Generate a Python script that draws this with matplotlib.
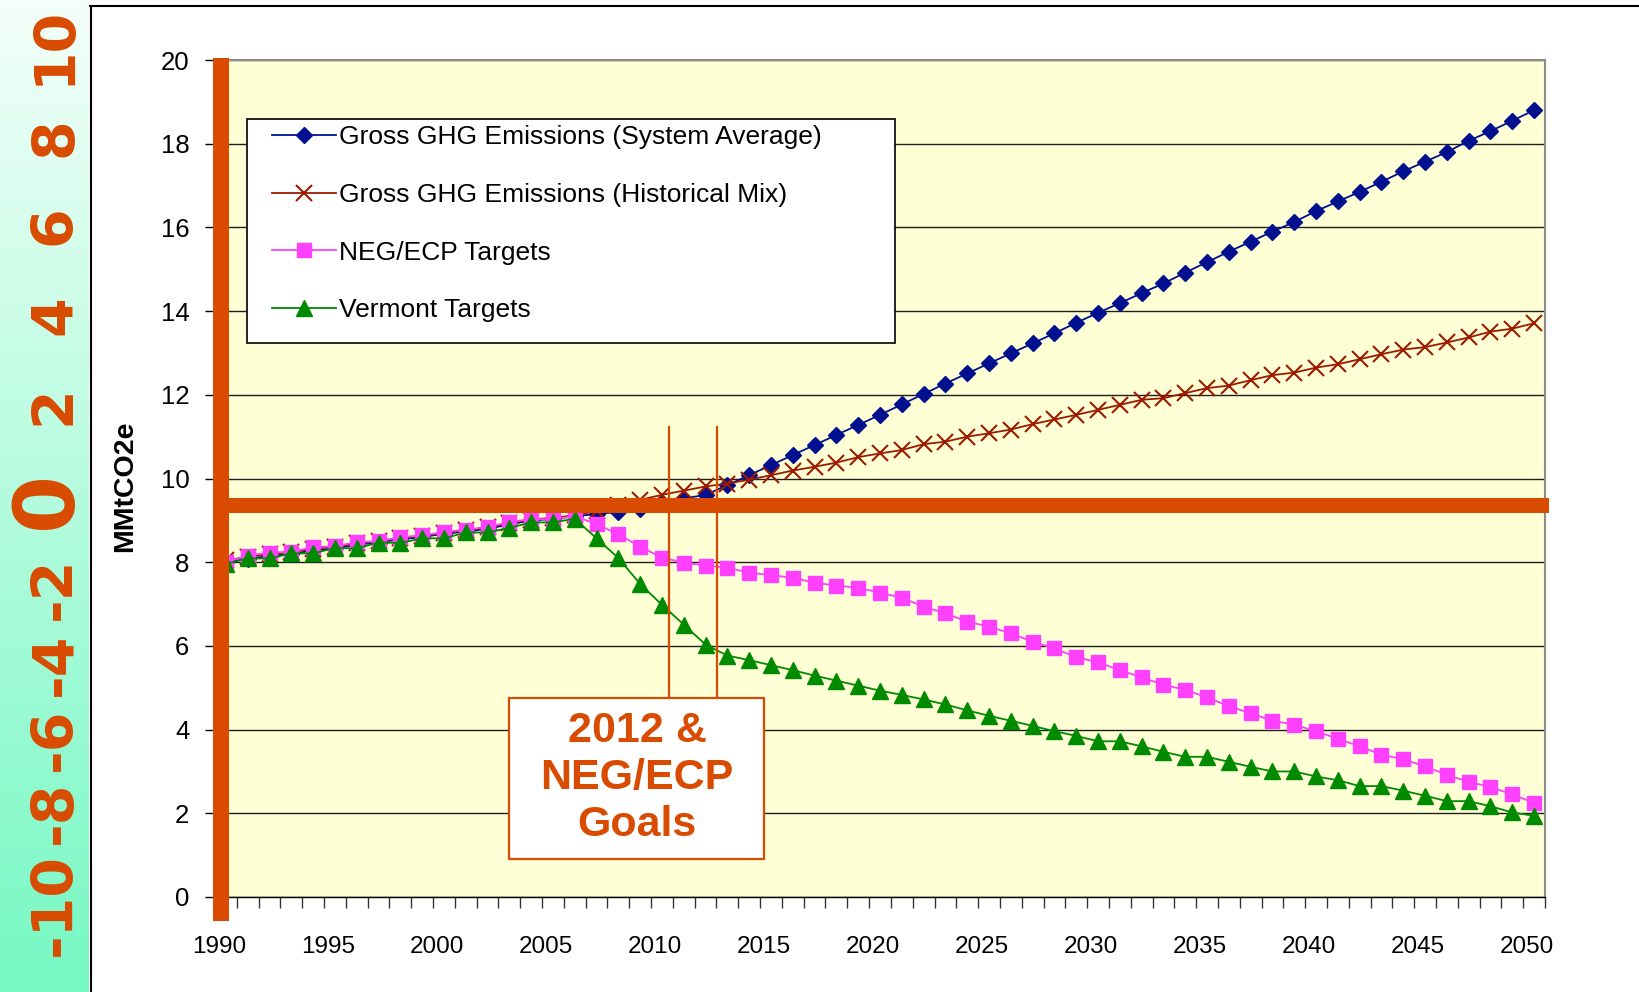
import numpy as np
import matplotlib
matplotlib.use("Agg")
import matplotlib.pyplot as plt
import matplotlib.transforms as mtransforms
from matplotlib.patches import Rectangle
from matplotlib.lines import Line2D

W, H, DPI = 1639, 992, 100

# ---------------------------------------------------------------- data
years = list(range(1990, 2051))

system_average = [
    8.00, 8.08, 8.15, 8.20, 8.28, 8.33, 8.42, 8.47, 8.55, 8.60,
    8.68, 8.73, 8.80, 8.90, 9.00, 9.03, 9.10, 9.15, 9.20, 9.28,
    9.42, 9.52, 9.61, 9.84, 10.08, 10.32, 10.56, 10.80, 11.04, 11.28,
    11.52, 11.77, 12.02, 12.27, 12.51, 12.75, 12.99, 13.23, 13.47, 13.72,
    13.96, 14.19, 14.43, 14.66, 14.92, 15.17, 15.42, 15.66, 15.90, 16.13,
    16.39, 16.62, 16.85, 17.09, 17.34, 17.57, 17.80, 18.07, 18.30, 18.55,
    18.80,
]

historical_mix = [
    8.05, 8.12, 8.20, 8.24, 8.32, 8.37, 8.45, 8.50, 8.58, 8.63,
    8.70, 8.76, 8.83, 8.93, 9.02, 9.06, 9.12, 9.22, 9.36, 9.49,
    9.61, 9.71, 9.81, 9.88, 9.97, 10.08, 10.19, 10.28, 10.38, 10.51,
    10.60, 10.68, 10.82, 10.88, 11.00, 11.08, 11.17, 11.30, 11.41, 11.52,
    11.64, 11.76, 11.88, 11.92, 12.04, 12.16, 12.22, 12.35, 12.47, 12.53,
    12.65, 12.73, 12.85, 12.97, 13.08, 13.14, 13.25, 13.37, 13.51, 13.58,
    13.71,
]

neg_ecp_targets = [
    8.00, 8.16, 8.23, 8.25, 8.36, 8.38, 8.48, 8.50, 8.60, 8.64,
    8.72, 8.78, 8.84, 8.96, 9.03, 9.03, 9.10, 8.91, 8.67, 8.37,
    8.11, 7.99, 7.92, 7.87, 7.75, 7.69, 7.63, 7.51, 7.44, 7.39,
    7.27, 7.15, 6.94, 6.78, 6.58, 6.46, 6.30, 6.10, 5.94, 5.73,
    5.61, 5.42, 5.25, 5.07, 4.95, 4.77, 4.56, 4.39, 4.21, 4.12,
    3.96, 3.78, 3.60, 3.40, 3.29, 3.12, 2.92, 2.75, 2.63, 2.45,
    2.25,
]

vermont_targets = [
    7.96, 8.09, 8.09, 8.21, 8.21, 8.34, 8.33, 8.47, 8.46, 8.57,
    8.57, 8.71, 8.71, 8.82, 8.95, 8.95, 9.04, 8.57, 8.10, 7.48,
    6.98, 6.51, 6.03, 5.77, 5.66, 5.54, 5.42, 5.29, 5.17, 5.05,
    4.93, 4.83, 4.72, 4.60, 4.46, 4.33, 4.21, 4.09, 3.96, 3.85,
    3.72, 3.72, 3.60, 3.47, 3.35, 3.35, 3.23, 3.11, 3.00, 3.00,
    2.88, 2.79, 2.65, 2.65, 2.54, 2.42, 2.29, 2.29, 2.17, 2.02,
    1.94,
]

series_labels = [
    "Gross GHG Emissions (System Average)",
    "Gross GHG Emissions (Historical Mix)",
    "NEG/ECP Targets",
    "Vermont Targets",
]
y_ticks = list(range(0, 21, 2))
x_label_years = list(range(1990, 2051, 5))
y_axis_title = "MMtCO2e"
quadrant_labels = ["-10", "-8", "-6", "-4", "-2", "0", "2", "4", "6", "8", "10"]
callout_text = "2012 &\nNEG/ECP\nGoals"

# ---------------------------------------------------------------- layout
ORANGE = "#D84B00"
quadrant_y_px = [904, 812, 739, 664, 588, 500, 405, 315, 225, 137, 45]

plt.rcParams["font.family"] = ["Liberation Sans", "DejaVu Sans"]


def fx(x):
    return x / W


def fy(y):
    return 1 - y / H


fig = plt.figure(figsize=(W / DPI, H / DPI), dpi=DPI)
fig.patch.set_facecolor("white")

# gradient side strip
side = fig.add_axes([0, 0, fx(89), 1])
grad = np.linspace(0, 1, 256)[:, None, None]
c_top = np.array([243, 255, 249]) / 255
c_bot = np.array([118, 248, 196]) / 255
side.imshow(c_top + (c_bot - c_top) * grad, aspect="auto",
            extent=[0, 1, 0, 1], origin="upper")
side.axis("off")

# main chart
ax = fig.add_axes([fx(215), fy(897), fx(1545 - 215), (897 - 60) / H])
ax.set_facecolor("#FFFFD6")

lines = []
lines += ax.plot(years, system_average, color="#00108F", lw=1.3, marker="D",
                 ms=8.5, mfc="#00108F", mec="#00108F", zorder=3)
lines += ax.plot(years, historical_mix, color="#9C1B00", lw=1.3, marker="x",
                 ms=11, mew=1.5, mec="#9C1B00", zorder=3.1)
lines += ax.plot(years, neg_ecp_targets, color="#FF40FF", lw=1.3, marker="s",
                 ms=9.5, mfc="#FF40FF", mec="#FF40FF", zorder=3.2)
lines += ax.plot(years, vermont_targets, color="#008A00", lw=1.3, marker="^",
                 ms=12, mfc="#008A00", mec="#008A00", zorder=3.3)

ax.set_xlim(1989.5, 2050.5)
ax.set_ylim(0, 20)

ax.set_yticks(y_ticks)
ax.yaxis.grid(True, color="#1E1E1E", lw=1.0)
ax.set_axisbelow(True)
ax.tick_params(axis="y", direction="out", length=7, width=1, color="black",
               labelsize=18.5, pad=11.5)

ax.set_xticks(x_label_years)
ax.set_xticks(np.arange(1989.5, 2051, 1), minor=True)
ax.tick_params(axis="x", which="major", length=0, labelsize=17.5, pad=28)
ax.tick_params(axis="x", which="minor", direction="out", length=8, width=1,
               color="#333333")
shift = mtransforms.ScaledTranslation(-7 / DPI, 0, fig.dpi_scale_trans)
for lab in ax.get_xticklabels():
    lab.set_transform(lab.get_transform() + shift)

for side_name in ("top", "right"):
    ax.spines[side_name].set_color("#8C8C8C")
    ax.spines[side_name].set_linewidth(1.5)
for side_name in ("left", "bottom"):
    ax.spines[side_name].set_color("black")
    ax.spines[side_name].set_linewidth(1.0)

# legend with its own boxed frame
ax.add_patch(Rectangle((fx(247), fy(343)), fx(895 - 247), (343 - 119) / H,
                       transform=fig.transFigure, facecolor="white",
                       edgecolor="black", lw=1.2, zorder=4, clip_on=False))
leg = ax.legend(lines, series_labels, loc="upper left",
                bbox_to_anchor=(fx(272), fy(125)), bbox_transform=fig.transFigure,
                frameon=False, fontsize=19, borderpad=0, borderaxespad=0,
                handlelength=2.42, handletextpad=0.12, labelspacing=1.28)
leg.set_zorder(5)

fig.text(fx(125), fy(486), y_axis_title, rotation=90, ha="center", va="center",
         fontsize=20.5, fontweight="bold")

# frame around the chart area
fig.add_artist(Line2D([fx(90.5), fx(90.5)], [0, fy(6)], transform=fig.transFigure,
                      color="black", lw=1.5, zorder=6))
fig.add_artist(Line2D([fx(90), 1], [fy(6), fy(6)], transform=fig.transFigure,
                      color="black", lw=1.5, zorder=6))

# orange cross-hair overlay
fig.add_artist(Rectangle((fx(213), fy(921)), fx(16), (921 - 58) / H,
                         transform=fig.transFigure, facecolor=ORANGE,
                         edgecolor="none", zorder=10))
fig.add_artist(Rectangle((fx(213), fy(513)), fx(1549 - 213), 15 / H,
                         transform=fig.transFigure, facecolor=ORANGE,
                         edgecolor="none", zorder=10))

# callout for the 2012 goals
for xp in (669, 717):
    fig.add_artist(Line2D([fx(xp), fx(xp)], [fy(427), fy(698)],
                          transform=fig.transFigure, color=ORANGE, lw=1.6,
                          zorder=11))
fig.add_artist(Rectangle((fx(509), fy(859)), fx(764 - 509), (859 - 698) / H,
                         transform=fig.transFigure, facecolor="white",
                         edgecolor=ORANGE, lw=1.6, zorder=11))
fig.text(fx(637), fy(778), callout_text, ha="center", va="center",
         multialignment="center", fontsize=31, fontweight="bold",
         color=ORANGE, linespacing=1.22, zorder=12)

# numbers running up the side strip
for lab, yp in zip(quadrant_labels, quadrant_y_px):
    fig.text(fx(71), fy(yp), lab, rotation=90, rotation_mode="anchor",
             ha="center", va="baseline", fontsize=60 if lab == "0" else 41,
             fontweight="bold", color=ORANGE, family=["DejaVu Sans"], zorder=12)

fig.savefig("out.png", dpi=DPI)
